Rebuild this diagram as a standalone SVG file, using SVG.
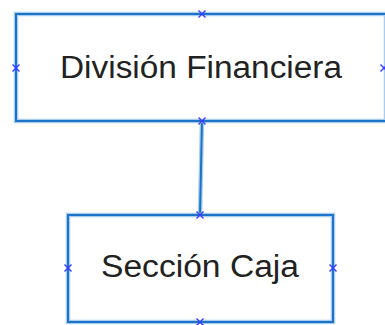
<svg xmlns="http://www.w3.org/2000/svg" width="385" height="325" viewBox="0 0 385 325">
<defs>
<style>
.halo{fill:none;stroke:#a9cdf0;stroke-width:4.5}
.box{fill:none;stroke:#1b74c8;stroke-width:2}
.lbl{font-family:"Liberation Sans",Arial,sans-serif;font-size:31px;fill:#222222;text-anchor:middle}
.x{stroke:#3a3aff;stroke-width:1.4;fill:none}
</style>
<path id="cx" d="M-3.5,-3.5L3.5,3.5M-3.5,3.5L3.5,-3.5" class="x"/>
</defs>
<rect width="385" height="325" fill="#ffffff"/>
<g id="connectors">
<line x1="202" y1="121" x2="200" y2="215" class="halo"/>
<line x1="202" y1="121" x2="200" y2="215" class="box"/>
</g>
<g id="node-division">
<rect x="16" y="14" width="370" height="107" class="halo"/>
<rect x="16" y="14" width="370" height="107" class="box"/>
<text x="201" y="78" class="lbl" textLength="282" lengthAdjust="spacingAndGlyphs">División Financiera</text>
<use href="#cx" x="202" y="14"/>
<use href="#cx" x="16" y="68"/>
<use href="#cx" x="384" y="68"/>
<use href="#cx" x="202" y="121"/>
</g>
<g id="node-seccion">
<rect x="68" y="215" width="265" height="107" class="halo"/>
<rect x="68" y="215" width="265" height="107" class="box"/>
<text x="200" y="277" class="lbl" textLength="198" lengthAdjust="spacingAndGlyphs">Sección Caja</text>
<use href="#cx" x="200" y="215"/>
<use href="#cx" x="68" y="268"/>
<use href="#cx" x="333" y="268"/>
<use href="#cx" x="200" y="322"/>
</g>
</svg>
